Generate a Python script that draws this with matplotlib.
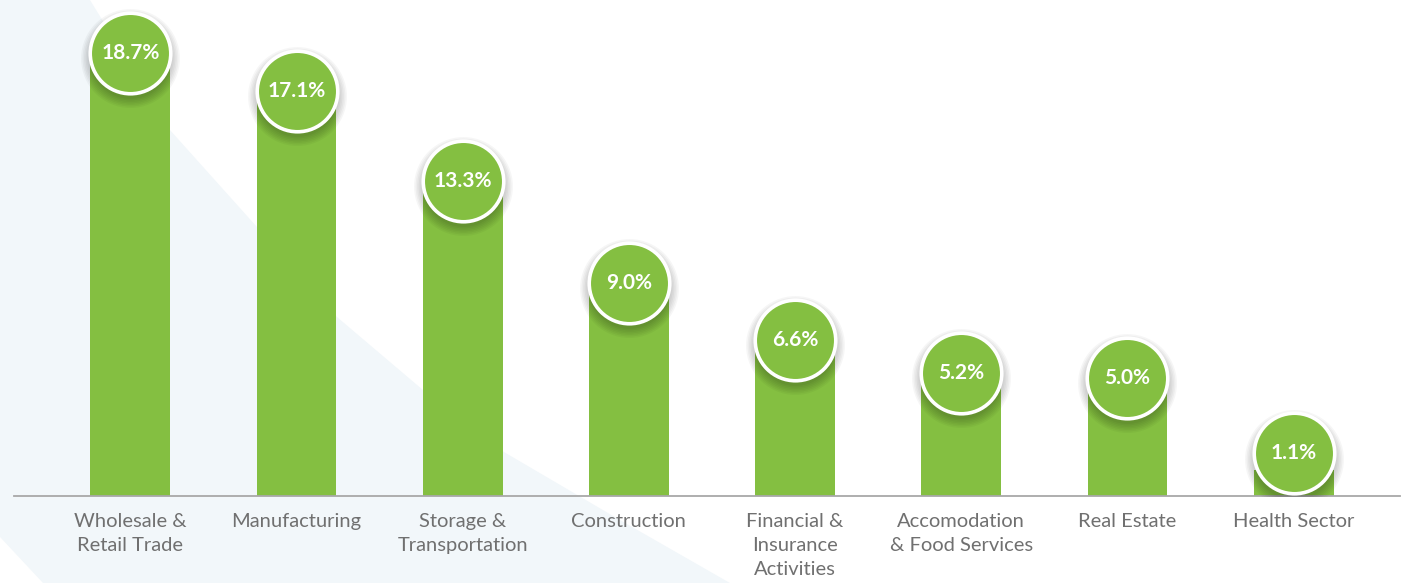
import numpy as np
import matplotlib
matplotlib.use("Agg")
import matplotlib.pyplot as plt
from matplotlib.patches import Polygon

# -------------------------------
# Data
# -------------------------------
sectors = ["Wholesale &\nRetail Trade", "Manufacturing", "Storage &\nTransportation",
           "Construction", "Financial &\nInsurance\nActivities",
           "Accomodation\n& Food Services", "Real Estate", "Health Sector"]
shares = [18.7, 17.1, 13.3, 9.0, 6.6, 5.2, 5.0, 1.1]
value_labels = ["18.7%", "17.1%", "13.3%", "9.0%", "6.6%", "5.2%", "5.0%", "1.1%"]

GREEN = "#84BF41"
BG_BLUE = "#F2F7FA"
W, H = 1401, 583

plt.rcParams['font.family'] = ['Lato', 'DejaVu Sans']

fig = plt.figure(figsize=(W / 100, H / 100), dpi=100)

# -------------------------------
# Light background band (pixel coords, top-left origin)
# -------------------------------
band_px = [(0, 0), (90, 0), (170, 130), (257, 227), (337, 317), (423, 390),
           (504, 452), (620, 520), (730, 583), (43, 583), (0, 537)]
band = Polygon([(x / W, 1 - y / H) for x, y in band_px], closed=True,
               transform=fig.transFigure, facecolor=BG_BLUE, edgecolor='none', zorder=-5)
fig.patches.append(band)

# -------------------------------
# Axes
# -------------------------------
ax = fig.add_axes([14 / W, 87 / H, (1400 - 14) / W, 496 / H])
ax.set_zorder(1)
ax.patch.set_alpha(0)
x = np.arange(len(shares))
ax.set_xlim(-0.70, 7.64)
ax.set_ylim(0, 20.93)

ax.bar(x, shares, width=0.48, color=GREEN, zorder=2)

# circle markers sit on bar tops (kept above baseline for small values)
circle_y = np.maximum(shares, 1.8)

# soft shadow
for k in range(7):
    ax.scatter(x, circle_y - 0.22, s=(58 + 2.2 * k) ** 2, color='black',
               alpha=0.035, linewidths=0, zorder=3)

ax.scatter(x, circle_y, s=58 ** 2, color=GREEN, edgecolors='white',
           linewidths=2.6, zorder=4)

for xi, yi, lab in zip(x, circle_y, value_labels):
    ax.text(xi, yi, lab, ha='center', va='center', color='white',
            fontsize=15, fontweight='bold', zorder=5)

ax.set_xticks(x)
ax.set_xticklabels(sectors, color='#707070', fontsize=14.5, linespacing=1.5)
ax.tick_params(axis='x', length=0, pad=12)
ax.set_yticks([])
for side in ['top', 'left', 'right']:
    ax.spines[side].set_visible(False)
ax.spines['bottom'].set_color('#A8A8A8')
ax.spines['bottom'].set_linewidth(1.3)

fig.savefig("out.png", dpi=100, facecolor='white')
